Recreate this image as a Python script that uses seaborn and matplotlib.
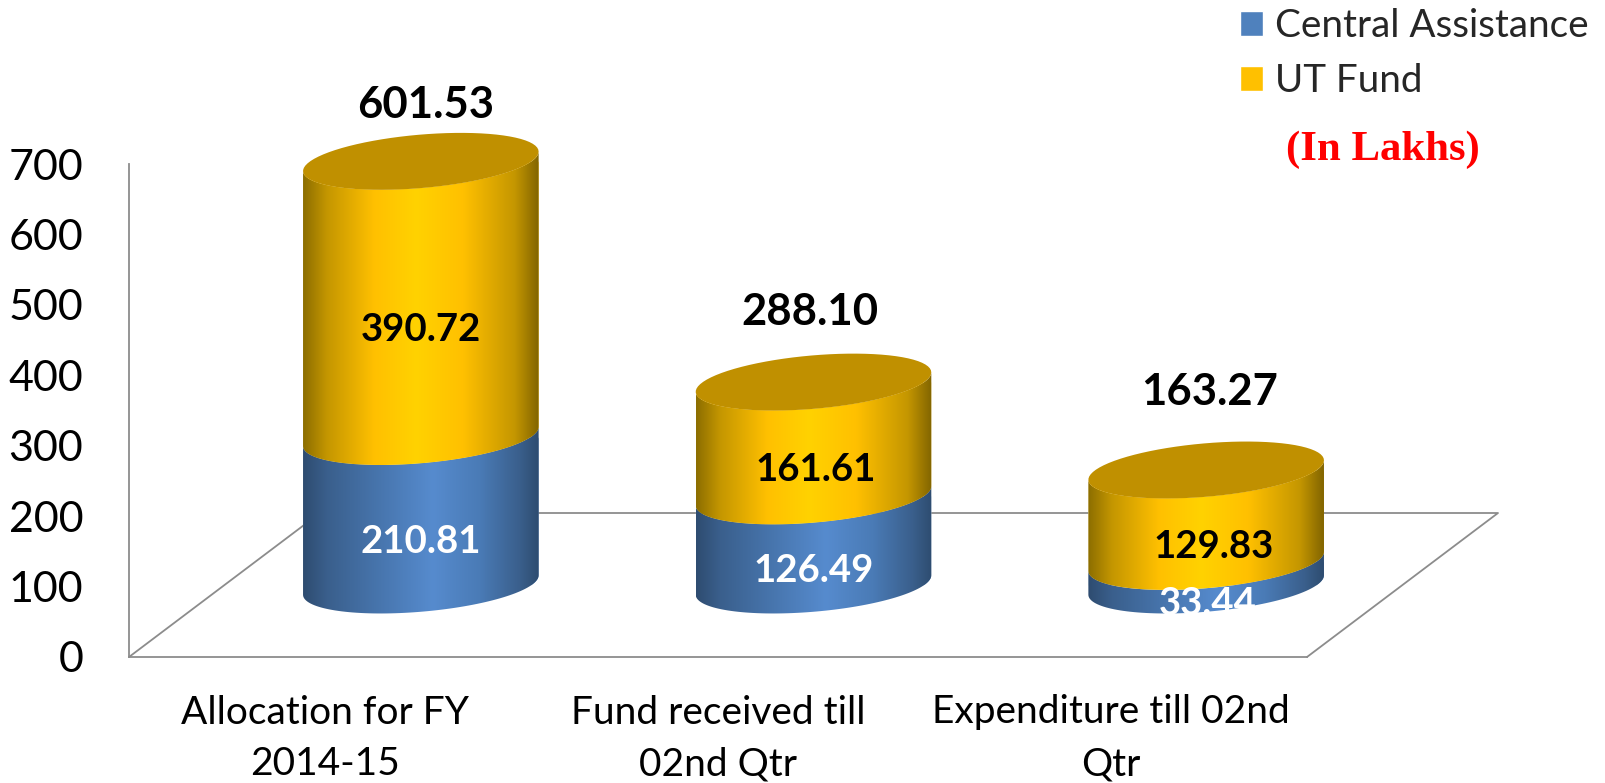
import numpy as np
import pandas as pd
import seaborn as sns
import matplotlib.pyplot as plt
from matplotlib.colors import LinearSegmentedColormap
from matplotlib.patches import Polygon

categories = ["Allocation for FY\n2014-15", "Fund received till\n02nd Qtr", "Expenditure till 02nd\nQtr"]
central = [210.81, 126.49, 33.44]
ut_fund = [390.72, 161.61, 129.83]
totals = [601.53, 288.10, 163.27]
y_ticks = [0, 100, 200, 300, 400, 500, 600, 700]

W, H = 1605, 783
DPI = 100
BLUE = "#4F81BD"
GOLD = "#FFC000"
TOP = "#C09000"
GREY = "#8C8C8C"
FONT = "Lato"

# pixel layout of the plot box and half of the 3d floor depth
LEFT, RIGHT, BOTTOM, TOP_PX = 129, 1307, 657, 164
DX, DY = 95.5, 72

# ellipse sizes in data units
ELL_B, ELL_TILT = 38, 13.8
BAR_WIDTH = 0.6

blue_cmap = LinearSegmentedColormap.from_list("b", [(0, "#2E4C70"), (0.1, "#3A5F8C"), (0.3, "#4673AA"),
                                                    (0.55, "#568BCE"), (0.75, "#4A7BB6"), (0.92, "#3A5F8C"), (1, "#2E4C70")])
gold_cmap = LinearSegmentedColormap.from_list("g", [(0, "#8C6E00"), (0.1, "#C49600"), (0.3, "#FFC000"),
                                                    (0.48, "#FFD200"), (0.68, "#FFC000"), (0.9, "#C49600"), (1, "#826500")])


def ax_rect(dx=0, dy=0):
    return [(LEFT + dx) / W, (H - BOTTOM + dy) / H, (RIGHT - LEFT) / W, (BOTTOM - TOP_PX) / H]


def arc(xc, half, yc, start, stop):
    t = np.linspace(start, stop, 80)
    return np.column_stack([xc + half * np.cos(t), yc + ELL_TILT * np.cos(t) + ELL_B * np.sin(t)])


def draw_segment(ax, bar, cmap, zorder):
    xc = bar.get_x() + bar.get_width() / 2
    half = bar.get_width() / 2
    y0, y1 = bar.get_y(), bar.get_y() + bar.get_height()
    low = arc(xc, half, y0, np.pi, 2 * np.pi)
    high = arc(xc, half, y1, 2 * np.pi, np.pi)
    body = Polygon(np.vstack([low, high]), closed=True, transform=ax.transData, fc="none", ec="none", clip_on=False)
    ax.add_patch(body)
    bar.set_clip_path(body)
    bar.set_clip_box(None)
    grad = np.linspace(0, 1, 256)[None, :]
    img = ax.imshow(grad, cmap=cmap, aspect="auto", zorder=zorder, interpolation="bilinear",
                    extent=[xc - half, xc + half, y0 - 60, y1 + 60])
    img.set_clip_path(body)
    # images get cropped to the axes box otherwise, and the base hangs below y=0
    img.set_clip_box(ax.figure.bbox)


sns.set_theme(style="white")
plt.rcParams["font.family"] = [FONT, "DejaVu Sans"]

fig = plt.figure(figsize=(W / DPI, H / DPI), dpi=DPI)

# box with the y axis, the floor and the category labels
ax = fig.add_axes(ax_rect())
ax.set_xlim(-0.5, 2.5)
ax.set_ylim(0, 700)
ax.set_xticks(range(3))
ax.set_xticklabels(categories, fontsize=28, color="black", linespacing=1.54)
ax.set_yticks(y_ticks)
ax.set_yticklabels(y_ticks, fontsize=31, color="black")
ax.tick_params(axis="both", length=0)
ax.tick_params(axis="x", pad=27)
ax.tick_params(axis="y", pad=33)
for side in ["top", "right"]:
    ax.spines[side].set_visible(False)
for side in ["left", "bottom"]:
    ax.spines[side].set_color(GREY)
    ax.spines[side].set_linewidth(1.3)

fx = 2 * DX / (RIGHT - LEFT)
fy = 2 * DY / (BOTTOM - TOP_PX)
ax.plot([0, fx, 1 + fx, 1], [0, fy, fy, 0], color=GREY, lw=1.3, transform=ax.transAxes, clip_on=False)

# the cylinders sit half way back on the floor
bar_ax = fig.add_axes(ax_rect(DX, DY))
bar_ax.patch.set_alpha(0)
df = pd.DataFrame({"category": categories, "central": central, "ut_fund": ut_fund})
sns.barplot(data=df, x="category", y="central", color=BLUE, saturation=1, width=BAR_WIDTH,
            label="Central Assistance", ax=bar_ax)
sns.barplot(data=df, x="category", y="ut_fund", bottom=central, color=GOLD, saturation=1, width=BAR_WIDTH,
            label="UT Fund", ax=bar_ax)
bar_ax.set_xlim(-0.5, 2.5)
bar_ax.set_ylim(0, 700)
bar_ax.axis("off")

bars = list(bar_ax.patches)
for bar in bars[:3]:
    draw_segment(bar_ax, bar, blue_cmap, 3)
for bar in bars[3:]:
    draw_segment(bar_ax, bar, gold_cmap, 4)
    xc = bar.get_x() + bar.get_width() / 2
    y1 = bar.get_y() + bar.get_height()
    top = arc(xc, bar.get_width() / 2, y1, 0, 2 * np.pi)
    bar_ax.add_patch(Polygon(top, closed=True, fc=TOP, ec="none", zorder=5))
bar_ax.set_xlim(-0.5, 2.5)
bar_ax.set_ylim(0, 700)

px = 72 / DPI
below = -31 * px
total_gaps = [56, 70, 78]
total_dx = [5, -4, 3]
central_dx = [0, 0, 2]
ut_dx = [0, 2, 7]
for i in range(3):
    bar_ax.annotate(f"{central[i]:.2f}", (i, central[i] / 2), xytext=(central_dx[i] * px, below), textcoords="offset points",
                    ha="center", va="center", fontsize=27.6, fontweight="bold", color="white", zorder=6,
                    annotation_clip=False)
    bar_ax.annotate(f"{ut_fund[i]:.2f}", (i, central[i] + ut_fund[i] / 2), xytext=(ut_dx[i] * px, below), textcoords="offset points",
                    ha="center", va="center", fontsize=27.6, fontweight="bold", color="black", zorder=6,
                    annotation_clip=False)
    bar_ax.annotate(f"{totals[i]:.2f}", (i, totals[i]), xytext=(total_dx[i] * px, total_gaps[i] * px), textcoords="offset points",
                    ha="center", va="center", fontsize=31.4, fontweight="bold", color="black", zorder=6,
                    annotation_clip=False)

handles, labels = bar_ax.get_legend_handles_labels()
leg = bar_ax.legend(handles, labels, loc="upper left", bbox_to_anchor=(1240 / W, 1 - 8 / H), bbox_transform=fig.transFigure,
                    frameon=False, fontsize=27.8, handlelength=0.6, handleheight=0.6, handletextpad=0.31,
                    labelspacing=0.5, borderpad=0, borderaxespad=0)
fig.text(1383 / W, 1 - 150 / H, "(In Lakhs)", color="red", fontsize=30.8, fontweight="bold",
         family="Liberation Serif", ha="center", va="center")

fig.savefig("out.png", dpi=DPI)
